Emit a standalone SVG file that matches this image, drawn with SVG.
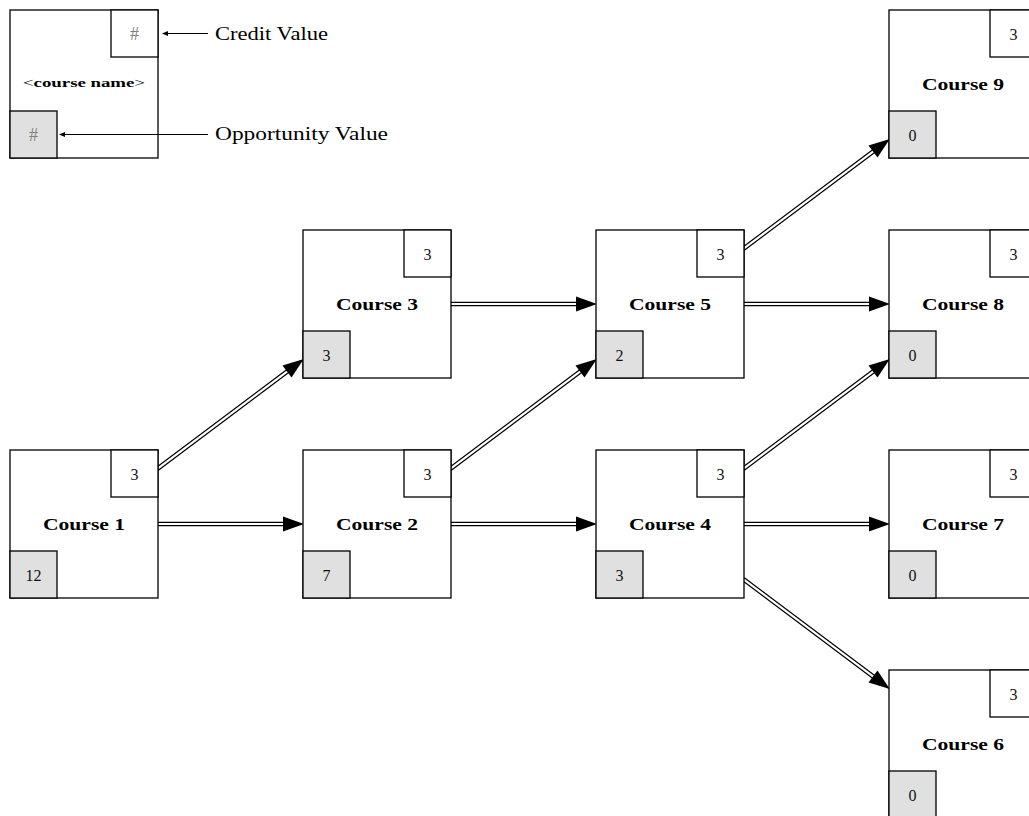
<svg xmlns="http://www.w3.org/2000/svg" width="1029" height="816" viewBox="0 0 1029 816">
<defs>
<style>
.box{fill:#fff;stroke:#000;stroke-width:1.3}
.opp{fill:#e0e0e0;stroke:#000;stroke-width:1.3}
.name{font-family:"Liberation Serif",serif;font-weight:bold;font-size:16px;text-anchor:middle}
.num{font-family:"Liberation Serif",serif;font-size:16px;text-anchor:middle;fill:#111}
.hash{font-family:"Liberation Serif",serif;font-size:18px;text-anchor:middle;fill:#808080}
.lbl{font-family:"Liberation Serif",serif;font-size:18px}
.outer{fill:none;stroke:#000;stroke-width:4.6;stroke-linecap:round}
.inner{fill:none;stroke:#fff;stroke-width:2.2;stroke-linecap:round}
.thin{fill:none;stroke:#000;stroke-width:1}
</style>
<marker id="head" markerUnits="userSpaceOnUse" markerWidth="24" markerHeight="18" refX="0" refY="8" orient="auto" viewBox="0 0 24 18" overflow="visible">
<path d="M0,0.5 L21,8 L0,15.5 Z" fill="#000"/>
</marker>
<marker id="small" markerUnits="userSpaceOnUse" markerWidth="8" markerHeight="8" refX="0" refY="3" orient="auto" viewBox="0 0 8 6" overflow="visible">
<path d="M0,0.5 L6,3 L0,5.5 Z" fill="#000"/>
</marker>
</defs>

<g id="legend">
<rect class="box" x="10" y="10" width="148" height="148"/>
<rect class="box" x="111" y="10" width="47" height="47"/>
<rect class="opp" x="10" y="111" width="47" height="47"/>
<text class="hash" x="134.5" y="39.5">#</text>
<text class="hash" x="33.5" y="140.5">#</text>
<text x="84" y="87" font-family="Liberation Serif, serif" font-size="13.5" text-anchor="middle" textLength="122" lengthAdjust="spacingAndGlyphs">&lt;<tspan font-weight="bold">course name</tspan>&gt;</text>
<line class="thin" x1="208" y1="33.5" x2="168" y2="33.5" marker-end="url(#small)"/>
<line class="thin" x1="208" y1="134.5" x2="65" y2="134.5" marker-end="url(#small)"/>
<text class="lbl" x="215" y="39.5" textLength="113" lengthAdjust="spacingAndGlyphs">Credit Value</text>
<text class="lbl" x="215" y="140" textLength="173" lengthAdjust="spacingAndGlyphs">Opportunity Value</text>
</g>

<g id="connectors">
<path class="outer" d="M158,468.4 L287,371.6"/><path class="inner" d="M158,468.4 L287,371.6" marker-end="url(#head)"/>
<path class="outer" d="M158,524 L283,524"/><path class="inner" d="M158,524 L283,524" marker-end="url(#head)"/>
<path class="outer" d="M451,468.4 L580,371.6"/><path class="inner" d="M451,468.4 L580,371.6" marker-end="url(#head)"/>
<path class="outer" d="M451,524 L576,524"/><path class="inner" d="M451,524 L576,524" marker-end="url(#head)"/>
<path class="outer" d="M451,304 L576,304"/><path class="inner" d="M451,304 L576,304" marker-end="url(#head)"/>
<path class="outer" d="M744,248.4 L873,151.6"/><path class="inner" d="M744,248.4 L873,151.6" marker-end="url(#head)"/>
<path class="outer" d="M744,304 L869,304"/><path class="inner" d="M744,304 L869,304" marker-end="url(#head)"/>
<path class="outer" d="M744,468.4 L873,371.6"/><path class="inner" d="M744,468.4 L873,371.6" marker-end="url(#head)"/>
<path class="outer" d="M744,524 L869,524"/><path class="inner" d="M744,524 L869,524" marker-end="url(#head)"/>
<path class="outer" d="M744,579.6 L873,676.4"/><path class="inner" d="M744,579.6 L873,676.4" marker-end="url(#head)"/>
</g>

<g id="course1">
<rect class="box" x="10" y="450" width="148" height="148"/>
<rect class="box" x="111" y="450" width="47" height="47"/>
<rect class="opp" x="10" y="551" width="47" height="47"/>
<text class="name" x="84" y="530" textLength="82" lengthAdjust="spacingAndGlyphs">Course 1</text>
<text class="num" x="134.5" y="479.5">3</text>
<text class="num" x="33.5" y="580.5">12</text>
</g>
<g id="course2">
<rect class="box" x="303" y="450" width="148" height="148"/>
<rect class="box" x="404" y="450" width="47" height="47"/>
<rect class="opp" x="303" y="551" width="47" height="47"/>
<text class="name" x="377" y="530" textLength="82" lengthAdjust="spacingAndGlyphs">Course 2</text>
<text class="num" x="427.5" y="479.5">3</text>
<text class="num" x="326.5" y="580.5">7</text>
</g>
<g id="course3">
<rect class="box" x="303" y="230" width="148" height="148"/>
<rect class="box" x="404" y="230" width="47" height="47"/>
<rect class="opp" x="303" y="331" width="47" height="47"/>
<text class="name" x="377" y="310" textLength="82" lengthAdjust="spacingAndGlyphs">Course 3</text>
<text class="num" x="427.5" y="259.5">3</text>
<text class="num" x="326.5" y="360.5">3</text>
</g>
<g id="course4">
<rect class="box" x="596" y="450" width="148" height="148"/>
<rect class="box" x="697" y="450" width="47" height="47"/>
<rect class="opp" x="596" y="551" width="47" height="47"/>
<text class="name" x="670" y="530" textLength="82" lengthAdjust="spacingAndGlyphs">Course 4</text>
<text class="num" x="720.5" y="479.5">3</text>
<text class="num" x="619.5" y="580.5">3</text>
</g>
<g id="course5">
<rect class="box" x="596" y="230" width="148" height="148"/>
<rect class="box" x="697" y="230" width="47" height="47"/>
<rect class="opp" x="596" y="331" width="47" height="47"/>
<text class="name" x="670" y="310" textLength="82" lengthAdjust="spacingAndGlyphs">Course 5</text>
<text class="num" x="720.5" y="259.5">3</text>
<text class="num" x="619.5" y="360.5">2</text>
</g>
<g id="course6">
<rect class="box" x="889" y="670" width="148" height="148"/>
<rect class="box" x="990" y="670" width="47" height="47"/>
<rect class="opp" x="889" y="771" width="47" height="47"/>
<text class="name" x="963" y="750" textLength="82" lengthAdjust="spacingAndGlyphs">Course 6</text>
<text class="num" x="1013.5" y="699.5">3</text>
<text class="num" x="912.5" y="800.5">0</text>
</g>
<g id="course7">
<rect class="box" x="889" y="450" width="148" height="148"/>
<rect class="box" x="990" y="450" width="47" height="47"/>
<rect class="opp" x="889" y="551" width="47" height="47"/>
<text class="name" x="963" y="530" textLength="82" lengthAdjust="spacingAndGlyphs">Course 7</text>
<text class="num" x="1013.5" y="479.5">3</text>
<text class="num" x="912.5" y="580.5">0</text>
</g>
<g id="course8">
<rect class="box" x="889" y="230" width="148" height="148"/>
<rect class="box" x="990" y="230" width="47" height="47"/>
<rect class="opp" x="889" y="331" width="47" height="47"/>
<text class="name" x="963" y="310" textLength="82" lengthAdjust="spacingAndGlyphs">Course 8</text>
<text class="num" x="1013.5" y="259.5">3</text>
<text class="num" x="912.5" y="360.5">0</text>
</g>
<g id="course9">
<rect class="box" x="889" y="10" width="148" height="148"/>
<rect class="box" x="990" y="10" width="47" height="47"/>
<rect class="opp" x="889" y="111" width="47" height="47"/>
<text class="name" x="963" y="90" textLength="82" lengthAdjust="spacingAndGlyphs">Course 9</text>
<text class="num" x="1013.5" y="39.5">3</text>
<text class="num" x="912.5" y="140.5">0</text>
</g>
</svg>
